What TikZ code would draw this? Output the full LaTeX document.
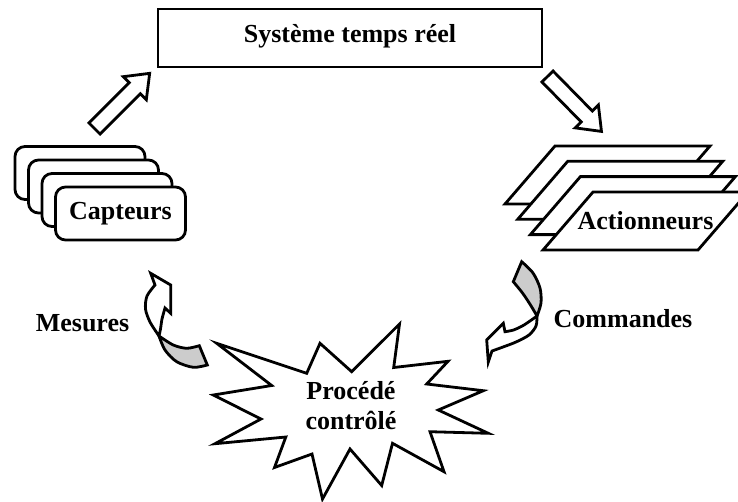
\documentclass[tikz,border=0pt]{standalone}
\usepackage{fontspec}
\setmainfont{Liberation Serif}
\usetikzlibrary{calc}
\tikzset{
    base/.style={font=\bfseries\fontsize{26}{30}\selectfont, align=center},
    outline/.style={draw=black, line width=2.8pt},
    sysbox/.style={base, outline, rectangle, minimum width=384pt, minimum height=58pt,
                   text height=16pt, text depth=8pt},
    sensor/.style={base, outline, fill=white, rectangle, rounded corners=10pt,
                   minimum width=130pt, minimum height=53pt},
    twist/.style={outline, fill=gray!40},
    annot/.style={base, inner sep=0pt}
}
% hollow block arrow along +x, tail at the origin
\newcommand{\blockarrow}[1]{%
  \draw[outline, fill=white] (0,-7.8) -- ({#1-21},-7.8) -- ({#1-21},-16.3) -- (#1,0)
    -- ({#1-21},16.3) -- ({#1-21},7.8) -- (0,7.8) -- cycle;}
\begin{document}
\begin{tikzpicture}[x=1pt, y=-1pt]
  \useasboundingbox (0,0) rectangle (738,501);

  % real-time system
  \node[sysbox] (sys) at (350,38) {Système temps réel};

  % block arrows to and from the system
  \begin{scope}[shift={(94.5,128.5)}, rotate=45]
    \blockarrow{78}
  \end{scope}
  \begin{scope}[shift={(547.5,76.5)}, rotate=-45.5]
    \blockarrow{77}
  \end{scope}

  % sensors, stacked cards
  \foreach \i in {0,1,2}
    \node[sensor] (sens\i) at ({80+13.5*\i},{173+13.5*\i}) {};
  \node[sensor] (sensors) at (120.5,213.5) {Capteurs};

  % actuators, stacked parallelograms
  \foreach \i in {0,...,3}
    \draw[outline, fill=white] ({555+12.7*\i},{146+15.3*\i}) -- ++(155,0) -- ++(-50,58)
      -- ++(-155,0) -- cycle;
  \node[annot] (actuators) at (645.5,221) {Actionneurs};

  % controlled process (explosion)
  \draw[outline, fill=white] (216.7,343.3) -- (306.7,373.3) -- (320,343.3) -- (351.7,371.7)
    -- (399.5,324) -- (393.7,367.5) -- (448,361.3) -- (426.7,384) -- (483.3,390.7)
    -- (438.3,410) -- (488.3,433.3) -- (430,431.7) -- (444,471.7) -- (392.5,443.3)
    -- (381.7,485.5) -- (350,449) -- (322.5,499) -- (312,454) -- (274.5,467.5)
    -- (285.8,437) -- (215,443.7) -- (261,419) -- (213.3,395) -- (271.7,385.5) -- cycle;
  \node[annot] (process) at (351,406) {Procédé\\contrôlé};

  % measures: curved arrow up to the sensors
  \draw[twist] plot[smooth] coordinates {(199.3,345.7) (186.7,348.3) (173.3,345) (159,336)}
    -- plot[smooth] coordinates {(159,336) (165,350) (176.7,361.7) (193.3,367.3) (207.3,365)}
    -- cycle;
  \draw[outline, fill=white] plot[smooth] coordinates {(159,336) (150,322) (145.5,309) (147,296) (155,285)}
    -- (150.7,273.3) -- (170.7,285) -- (170.7,313.3) -- (165,308)
    -- plot[smooth] coordinates {(165,308) (162,319) (160.5,329) (159,336)} -- cycle;
  \node[annot] (measures) at (82.5,323) {Mesures};

  % commands: curved arrow down to the process
  \draw[twist] plot[smooth] coordinates {(521.7,261.7) (533,273) (540,288) (541,303) (537,316)}
    -- plot[smooth] coordinates {(537,316) (530.5,305) (522.5,293) (513.3,281.7)} -- cycle;
  \draw[outline, fill=white] plot[smooth] coordinates {(537,316) (524,325) (513.5,330) (505,331.7)}
    -- (503.3,323.3) -- (486.7,340) -- (488.3,362) -- (492,351)
    -- plot[smooth] coordinates {(492,351) (503,347) (516,342) (529,335) (536,326) (537,316)}
    -- cycle;
  \node[annot] (commands) at (623,318.5) {Commandes};
\end{tikzpicture}
\end{document}
